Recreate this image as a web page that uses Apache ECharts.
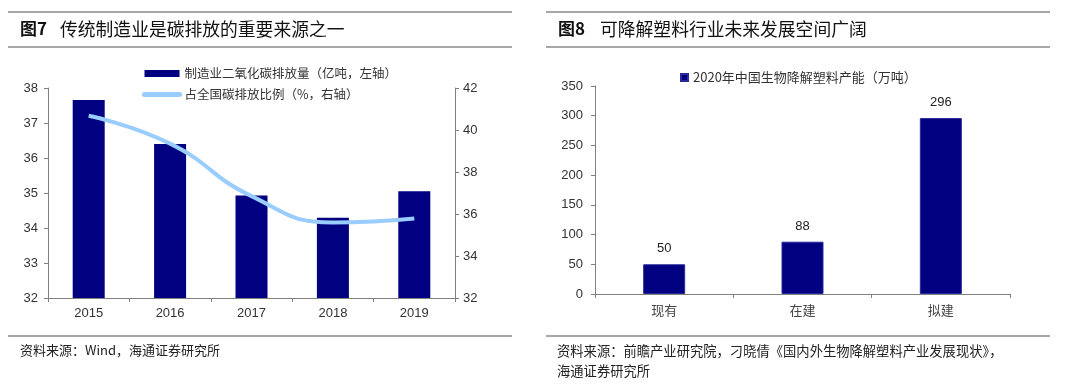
<!DOCTYPE html>
<html>
<head>
<meta charset="utf-8">
<script src="https://cdn.jsdelivr.net/npm/echarts@6/dist/echarts.min.js"></script>
<style>
html,body{margin:0;padding:0;background:#fff;}
#c{width:1080px;height:385px;}
</style>
</head>
<body>
<div id="c"></div>
<script>
// ---- Figure 7 data ----
const years = ['2015', '2016', '2017', '2018', '2019'];
const mfgEmission = [37.66, 36.4, 34.93, 34.29, 35.05];      // 亿吨, left axis
const shareOfNational = [40.68, 39.35, 36.85, 35.6, 35.79];  // %, right axis
const fig7Series = ['制造业二氧化碳排放量（亿吨，左轴）', '占全国碳排放比例（%，右轴）'];

// ---- Figure 8 data ----
const stages = ['现有', '在建', '拟建'];
const capacity = [50, 88, 296];
const fig8Series = '2020年中国生物降解塑料产能（万吨）';

const CJK = '"Noto Sans CJK SC", "Noto Sans", sans-serif';
const LAT = '"Liberation Sans", Arial, sans-serif';
const NAVY = '#000080';
const LIGHT = '#99CCFF';
const AX = '#808080';
const TXT = '#333';

const chart = echarts.init(document.getElementById('c'), null, {renderer: 'canvas'});

const ruleStyle = {stroke: '#8a8a8a', lineWidth: 1.5};

const option = {
  animation: false,
  backgroundColor: '#fff',
  graphic: [
    // top rules
    {type: 'line', shape: {x1: 8, y1: 12, x2: 512, y2: 12}, style: ruleStyle},
    {type: 'line', shape: {x1: 8, y1: 47, x2: 512, y2: 47}, style: ruleStyle},
    {type: 'line', shape: {x1: 546, y1: 12, x2: 1050, y2: 12}, style: ruleStyle},
    {type: 'line', shape: {x1: 546, y1: 47, x2: 1050, y2: 47}, style: ruleStyle},
    // bottom rules
    {type: 'line', shape: {x1: 8, y1: 336, x2: 512, y2: 336}, style: ruleStyle},
    {type: 'line', shape: {x1: 546, y1: 336, x2: 1050, y2: 336}, style: ruleStyle},
    // titles
    {type: 'text', left: 20, top: 20, style: {text: '图7', font: 'bold 17px ' + CJK, fill: '#111'}},
    {type: 'text', left: 60, top: 20, style: {text: '传统制造业是碳排放的重要来源之一', font: '17.8px ' + CJK, fill: '#111'}},
    {type: 'text', left: 558, top: 20, style: {text: '图8', font: 'bold 17px ' + CJK, fill: '#111'}},
    {type: 'text', left: 600, top: 20, style: {text: '可降解塑料行业未来发展空间广阔', font: '17.8px ' + CJK, fill: '#111'}},
    // sources
    {type: 'text', left: 20, top: 344, style: {text: '资料来源：Wind，海通证券研究所', font: '13px ' + CJK, fill: '#222'}},
    {type: 'text', left: 557, top: 344, style: {text: '资料来源：前瞻产业研究院，刁晓倩《国内外生物降解塑料产业发展现状》，', font: '13.3px ' + CJK, fill: '#222'}},
    {type: 'text', left: 557, top: 364, style: {text: '海通证券研究所', font: '13.3px ' + CJK, fill: '#222'}}
  ],
  legend: [
    {
      orient: 'vertical', left: 137, top: 62,
      itemWidth: 35, itemHeight: 7, itemGap: 8,
      data: [
        {name: fig7Series[0], icon: 'rect'},
        {name: fig7Series[1], itemStyle: {opacity: 0}, lineStyle: {width: 5, cap: 'round', color: LIGHT}}
      ],
      textStyle: {fontFamily: CJK, fontSize: 12.5, color: TXT, lineHeight: 13}
    },
    {
      left: 675, top: 66,
      itemWidth: 7, itemHeight: 7,
      data: [{name: fig8Series, icon: 'rect'}],
      textStyle: {fontFamily: CJK, fontSize: 13, color: TXT}
    }
  ],
  grid: [
    {left: 48, right: 625, top: 88, bottom: 87},
    {left: 595, right: 70, top: 86, bottom: 91}
  ],
  xAxis: [
    {
      type: 'category', gridIndex: 0, data: years,
      axisLine: {lineStyle: {color: AX}},
      axisTick: {show: true, length: 4, alignWithLabel: false, lineStyle: {color: AX}},
      axisLabel: {fontFamily: LAT, fontSize: 13, color: TXT, margin: 9}
    },
    {
      type: 'category', gridIndex: 1, data: stages,
      axisLine: {lineStyle: {color: AX}},
      axisTick: {show: true, length: 4, lineStyle: {color: AX}},
      axisLabel: {fontFamily: CJK, fontSize: 13, color: '#444', margin: 10}
    }
  ],
  yAxis: [
    {
      type: 'value', gridIndex: 0, min: 32, max: 38, interval: 1, position: 'left',
      axisLine: {show: true, lineStyle: {color: AX}},
      axisTick: {show: true, length: 4, lineStyle: {color: AX}},
      splitLine: {show: false},
      axisLabel: {fontFamily: LAT, fontSize: 13, color: TXT, margin: 10}
    },
    {
      type: 'value', gridIndex: 0, min: 32, max: 42, interval: 2, position: 'right',
      axisLine: {show: true, lineStyle: {color: AX}},
      axisTick: {show: true, length: 4, lineStyle: {color: AX}},
      splitLine: {show: false},
      axisLabel: {fontFamily: LAT, fontSize: 13, color: TXT, margin: 8}
    },
    {
      type: 'value', gridIndex: 1, min: 0, max: 350, interval: 50, position: 'left',
      axisLine: {show: true, lineStyle: {color: AX}},
      axisTick: {show: true, length: 4, lineStyle: {color: AX}},
      splitLine: {show: false},
      axisLabel: {fontFamily: LAT, fontSize: 13, color: TXT, margin: 12}
    }
  ],
  series: [
    {
      name: fig7Series[0], type: 'bar', xAxisIndex: 0, yAxisIndex: 0,
      data: mfgEmission, barWidth: 32,
      itemStyle: {color: NAVY}
    },
    {
      name: fig7Series[1], type: 'line', xAxisIndex: 0, yAxisIndex: 1,
      data: shareOfNational, smooth: true, symbol: 'none',
      lineStyle: {color: LIGHT, width: 4},
      itemStyle: {color: LIGHT}
    },
    {
      name: fig8Series, type: 'bar', xAxisIndex: 1, yAxisIndex: 2,
      data: capacity, barWidth: 42,
      itemStyle: {color: NAVY, borderColor: '#2a2a9a', borderWidth: 1},
      label: {show: true, position: 'top', distance: 9, fontFamily: LAT, fontSize: 13, color: '#222'}
    }
  ]
};
chart.setOption(option);
</script>
</body>
</html>
